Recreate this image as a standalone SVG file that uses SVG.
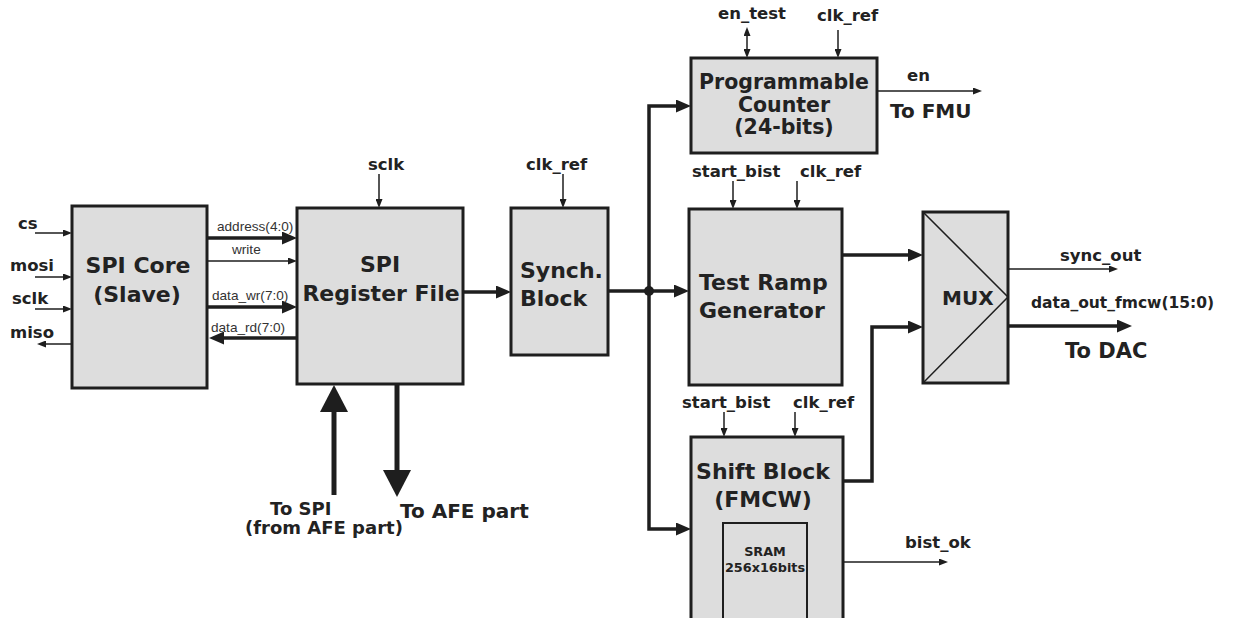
<svg xmlns="http://www.w3.org/2000/svg" width="1235" height="618" viewBox="0 0 1235 618">
  <style>
    .box { fill: #dddddd; stroke: #1e1e1e; stroke-width: 3; }
    .inner { fill: none; stroke: #1e1e1e; stroke-width: 2; }
    .thin { fill: none; stroke: #1e1e1e; stroke-width: 1.5; }
    .thick { fill: none; stroke: #1e1e1e; stroke-width: 3.5; }
    .bus { fill: none; stroke: #1e1e1e; stroke-width: 5; }
    .title { font-family: "DejaVu Sans", Verdana, sans-serif; font-weight: bold; font-size: 22px; fill: #222222; }
    .mid { font-family: "DejaVu Sans", Verdana, sans-serif; font-weight: bold; font-size: 20px; fill: #222222; }
    .sig { font-family: "DejaVu Sans", Verdana, sans-serif; font-weight: bold; font-size: 16.5px; fill: #222222; }
    .small { font-family: "Liberation Sans", Arial, sans-serif; font-size: 13.6px; fill: #333333; }
    .c { text-anchor: middle; }
  </style>
  <defs>
    <marker id="ah-s" markerUnits="userSpaceOnUse" markerWidth="9" markerHeight="7" refX="3" refY="3.5" orient="auto-start-reverse">
      <path d="M0,0 L9,3.5 L0,7 z" fill="#1e1e1e"/>
    </marker>
    <marker id="ah-b" markerUnits="userSpaceOnUse" markerWidth="15" markerHeight="13" refX="5" refY="6.5" orient="auto">
      <path d="M0,0 L15,6.5 L0,13 z" fill="#1e1e1e"/>
    </marker>
    <marker id="ah-h" markerUnits="userSpaceOnUse" markerWidth="28" markerHeight="28" refX="6" refY="14" orient="auto">
      <path d="M0,0 L27,14 L0,28 z" fill="#1e1e1e"/>
    </marker>
  </defs>

  <!-- connectors -->
  <g id="connectors">
    <!-- SPI core pins -->
    <line class="thin" x1="35" y1="233" x2="66" y2="233" marker-end="url(#ah-s)"/>
    <line class="thin" x1="35" y1="277" x2="66" y2="277" marker-end="url(#ah-s)"/>
    <line class="thin" x1="35" y1="309" x2="66" y2="309" marker-end="url(#ah-s)"/>
    <line class="thin" x1="72" y1="344" x2="43" y2="344" marker-end="url(#ah-s)"/>
    <!-- core <-> register file -->
    <line class="thick" x1="207" y1="238" x2="287" y2="238" marker-end="url(#ah-b)"/>
    <line class="thin" x1="207" y1="261" x2="291" y2="261" marker-end="url(#ah-s)"/>
    <line class="thick" x1="207" y1="307" x2="287" y2="307" marker-end="url(#ah-b)"/>
    <line class="thick" x1="297" y1="338" x2="219" y2="338" marker-end="url(#ah-b)"/>
    <!-- clocks -->
    <line class="thin" x1="379" y1="174" x2="379" y2="202" marker-end="url(#ah-s)"/>
    <line class="thin" x1="563" y1="174" x2="563" y2="202" marker-end="url(#ah-s)"/>
    <!-- register file -> synch -->
    <line class="thick" x1="463" y1="292" x2="501" y2="292" marker-end="url(#ah-b)"/>
    <!-- synch -> fan-out -->
    <line class="thick" x1="608" y1="291" x2="679" y2="291" marker-end="url(#ah-b)"/>
    <path class="thick" d="M649,291 L649,106 L681,106" marker-end="url(#ah-b)"/>
    <path class="thick" d="M649,291 L649,529 L681,529" marker-end="url(#ah-b)"/>
    <circle cx="649" cy="291" r="5" fill="#1e1e1e"/>
    <!-- counter pins -->
    <line class="thin" x1="747" y1="33" x2="747" y2="52" marker-start="url(#ah-s)" marker-end="url(#ah-s)"/>
    <line class="thin" x1="838" y1="30" x2="838" y2="52" marker-end="url(#ah-s)"/>
    <line class="thin" x1="877" y1="91" x2="976" y2="91" marker-end="url(#ah-s)"/>
    <!-- ramp pins -->
    <line class="thin" x1="733" y1="181" x2="733" y2="203" marker-end="url(#ah-s)"/>
    <line class="thin" x1="797" y1="181" x2="797" y2="203" marker-end="url(#ah-s)"/>
    <line class="thick" x1="842" y1="255" x2="913" y2="255" marker-end="url(#ah-b)"/>
    <!-- shift pins -->
    <line class="thin" x1="724" y1="412" x2="724" y2="431" marker-end="url(#ah-s)"/>
    <line class="thin" x1="795" y1="412" x2="795" y2="431" marker-end="url(#ah-s)"/>
    <path class="thick" d="M843,481 L872,481 L872,327 L913,327" marker-end="url(#ah-b)"/>
    <line class="thin" x1="843" y1="562" x2="942" y2="562" marker-end="url(#ah-s)"/>
    <!-- mux outputs -->
    <line class="thin" x1="1008" y1="269" x2="1112" y2="269" marker-end="url(#ah-s)"/>
    <line class="thick" x1="1008" y1="326" x2="1122" y2="326" marker-end="url(#ah-b)"/>
    <!-- AFE interface -->
    <line class="bus" x1="334" y1="495" x2="334" y2="406" marker-end="url(#ah-h)"/>
    <line class="bus" x1="397" y1="384" x2="397" y2="476" marker-end="url(#ah-h)"/>
  </g>

  <!-- free labels -->
  <g id="labels">
    <text class="sig" x="18" y="229">cs</text>
    <text class="sig" x="10" y="271">mosi</text>
    <text class="sig" x="12" y="304">sclk</text>
    <text class="sig" x="10" y="338">miso</text>
    <text class="small" x="217" y="231">address(4:0)</text>
    <text class="small" x="232" y="254">write</text>
    <text class="small" x="212" y="300">data_wr(7:0)</text>
    <text class="small" x="211" y="332">data_rd(7:0)</text>
    <text class="sig" x="368" y="170">sclk</text>
    <text class="sig" x="526" y="170">clk_ref</text>
    <text class="sig" x="718" y="19">en_test</text>
    <text class="sig" x="817" y="21">clk_ref</text>
    <text class="sig" x="907" y="81">en</text>
    <text class="mid" x="890" y="118">To FMU</text>
    <text class="sig" x="692" y="177">start_bist</text>
    <text class="sig" x="800" y="177">clk_ref</text>
    <text class="sig" x="682" y="408">start_bist</text>
    <text class="sig" x="793" y="408">clk_ref</text>
    <text class="sig" x="1060" y="261">sync_out</text>
    <text class="sig" x="1031" y="308" style="font-size:15.5px">data_out_fmcw(15:0)</text>
    <text class="mid" x="1065" y="358" style="font-size:21px">To DAC</text>
    <text class="sig" x="905" y="548">bist_ok</text>
    <text class="mid" x="270" y="515" style="font-size:18px">To SPI</text>
    <text class="mid" x="245" y="534" style="font-size:18px">(from AFE part)</text>
    <text class="mid" x="400" y="518">To AFE part</text>
  </g>

  <g id="spi-core">
    <rect class="box" x="72" y="206" width="135" height="182"/>
    <text class="title c" x="138" y="273">SPI Core</text>
    <text class="title c" x="137" y="302">(Slave)</text>
  </g>

  <g id="spi-register-file">
    <rect class="box" x="297" y="208" width="166" height="176"/>
    <text class="title c" x="380" y="272">SPI</text>
    <text class="title c" x="381" y="301">Register File</text>
  </g>

  <g id="synch-block">
    <rect class="box" x="511" y="208" width="97" height="147"/>
    <text class="title" x="520" y="278">Synch.</text>
    <text class="title" x="520" y="306">Block</text>
  </g>

  <g id="programmable-counter">
    <rect class="box" x="691" y="58" width="186" height="95"/>
    <text class="mid c" x="784" y="89" style="font-size:20.5px">Programmable</text>
    <text class="mid c" x="784" y="112" style="font-size:20.5px">Counter</text>
    <text class="mid c" x="784" y="134" style="font-size:20.5px">(24-bits)</text>
  </g>

  <g id="test-ramp-generator">
    <rect class="box" x="689" y="209" width="153" height="176"/>
    <text class="title" x="699" y="290">Test Ramp</text>
    <text class="title" x="699" y="318">Generator</text>
  </g>

  <g id="shift-block">
    <rect class="box" x="691" y="437" width="152" height="200"/>
    <text class="title c" x="763" y="479">Shift Block</text>
    <text class="title c" x="763" y="507">(FMCW)</text>
    <rect class="inner" x="723" y="523" width="84" height="120"/>
    <text class="sig c" x="765" y="556" style="font-size:12.8px">SRAM</text>
    <text class="sig c" x="765" y="572" style="font-size:12.8px">256x16bits</text>
  </g>

  <g id="mux">
    <rect class="box" x="923" y="212" width="85" height="171"/>
    <polyline class="thin" points="923,212 1008,297 923,383"/>
    <text class="mid" x="942" y="305">MUX</text>
  </g>
</svg>
